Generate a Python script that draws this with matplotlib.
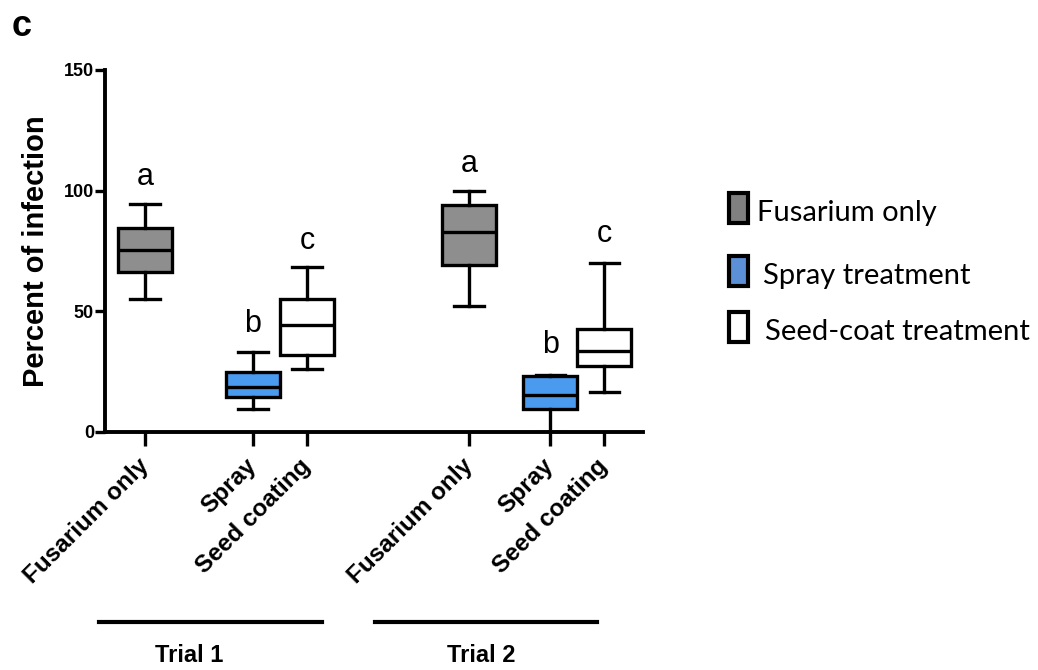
import matplotlib.pyplot as plt
from matplotlib.patches import Rectangle
from matplotlib.lines import Line2D

# box positions and labels
positions = [0, 2, 3, 6, 7.5, 8.5]
tick_labels = ["Fusarium only", "Spray", "Seed coating",
               "Fusarium only", "Spray", "Seed coating"]

# five-number summaries
whisker_low = [55.3, 9.7, 26.1, 52.2, 0.0, 16.4]
q1 = [66.4, 14.7, 32.1, 69.3, 9.6, 27.5]
median = [75.4, 18.5, 44.2, 82.8, 15.4, 33.75]
q3 = [84.4, 24.7, 55.3, 94.2, 23.0, 42.8]
whisker_high = [94.6, 33.0, 68.2, 100.0, 23.8, 70.0]

# significance letters
letters = ["a", "b", "c", "a", "b", "c"]
letter_y = [105.8, 44.6, 79.0, 111.0, 36.0, 82.0]

fills = ["#8e8e8e", "#4a9af0", "#ffffff", "#8e8e8e", "#4a9af0", "#ffffff"]

legend_labels = ["Fusarium only", "Spray treatment", "Seed-coat treatment"]
legend_colors = ["#808080", "#5b8fd6", "#ffffff"]

trial_names = ["Trial 1", "Trial 2"]

plt.rcParams['font.family'] = ['Liberation Sans', 'DejaVu Sans']

fig = plt.figure(figsize=(10.38, 6.70), dpi=100)
ax = fig.add_axes([105 / 1038, 1 - 432 / 670, (643 - 105) / 1038, 362 / 670])

stats = []
for i in range(len(positions)):
    stats.append(dict(whislo=whisker_low[i], q1=q1[i], med=median[i],
                      q3=q3[i], whishi=whisker_high[i]))

lw = 2.4
bp = ax.bxp(stats, positions=positions, widths=1.0, patch_artist=True,
            showfliers=False, capwidths=0.54,
            boxprops=dict(linewidth=lw, edgecolor="black"),
            medianprops=dict(linewidth=lw, color="black"),
            whiskerprops=dict(linewidth=lw, color="black"),
            capprops=dict(linewidth=lw, color="black"))
for patch, c in zip(bp["boxes"], fills):
    patch.set_facecolor(c)

for x, t, y in zip(positions, letters, letter_y):
    ax.text(x, y, t, ha="center", va="center", fontsize=22)

ax.set_xlim(-0.74, 9.22)
ax.set_ylim(0, 150)
ax.set_yticks([0, 50, 100, 150])
ax.set_xticks(positions)
ax.set_xticklabels(tick_labels, rotation=45, ha="right", va="center",
                   rotation_mode="anchor", fontsize=17.5, fontweight="bold")
for lab in ax.get_yticklabels():
    lab.set_fontsize(13)
    lab.set_fontweight("bold")
ax.tick_params(axis="y", direction="out", length=7, width=2.4, pad=1)
ax.tick_params(axis="x", direction="out", length=10, width=2.4, pad=12)
for s in ["top", "right"]:
    ax.spines[s].set_visible(False)
for s in ["left", "bottom"]:
    ax.spines[s].set_linewidth(2.8)
ax.set_ylabel("Percent of infection", fontsize=21, fontweight="bold", labelpad=10)

# panel letter
fig.text(22 / 1038, 1 - 26 / 670, "c", fontsize=26, fontweight="bold",
         ha="center", va="center")

# trial brackets
trial_x = [(99, 322), (375, 597)]
trial_text_x = [189, 481]
for (x0, x1), tx, name in zip(trial_x, trial_text_x, trial_names):
    fig.add_artist(Line2D([x0 / 1038, x1 / 1038], [1 - 622 / 670] * 2,
                          color="black", linewidth=3))
    fig.text(tx / 1038, 1 - 656 / 670, name, fontsize=17,
             fontweight="bold", ha="center", va="center")

# legend drawn by hand
leg_y = [208, 271, 327]
text_x = [757, 763, 765]
for yc, c, lab, tx in zip(leg_y, legend_colors, legend_labels, text_x):
    fig.add_artist(Rectangle((729 / 1038, 1 - (yc + 15) / 670), 19 / 1038, 30 / 670,
                             facecolor=c, edgecolor="black", linewidth=3,
                             transform=fig.transFigure))
    fig.text(tx / 1038, 1 - (yc + 5) / 670, lab, fontsize=21, family=["Lato", "DejaVu Sans"],
             ha="left", va="center")

fig.savefig("out.png", dpi=100)
